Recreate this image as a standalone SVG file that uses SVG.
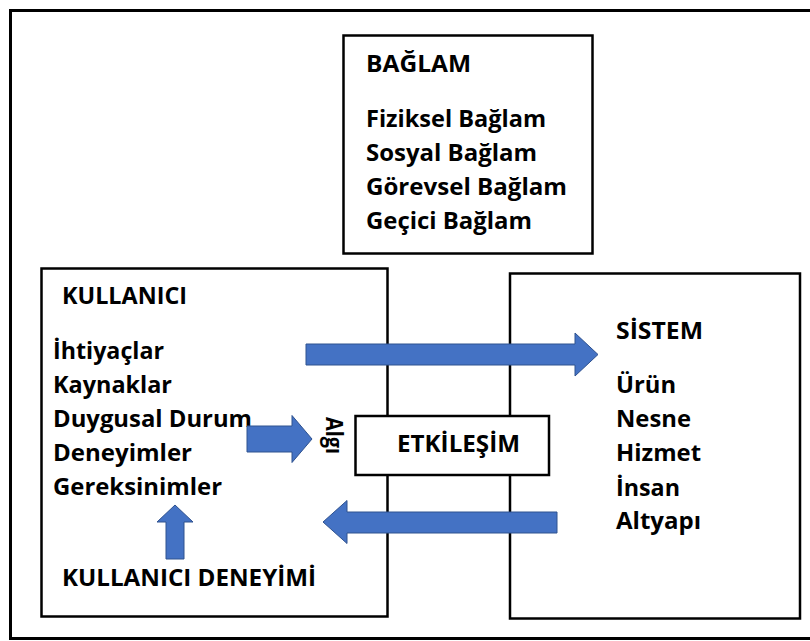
<svg xmlns="http://www.w3.org/2000/svg" width="810" height="641" viewBox="0 0 810 641">
  <style>
    .frame { fill: none; stroke: #000; stroke-width: 3; }
    .box { fill: #fff; stroke: #000; stroke-width: 2.5; }
    .boxo { fill: none; stroke: #000; stroke-width: 2.5; }
    .t { font-family: "Open Sans", "Noto Sans", "Liberation Sans", sans-serif; font-weight: bold; font-size: 23px; fill: #000; }
    .arrow { fill: #4472C4; stroke: #2F528F; stroke-width: 1; }
  </style>
  <rect x="0" y="0" width="810" height="641" fill="#fff"/>
  <rect class="frame" x="10.5" y="10.5" width="810" height="628"/>

  <g id="baglam">
    <rect class="box" x="343.5" y="35.5" width="249" height="218"/>
    <text class="t" x="366" y="72" textLength="105" lengthAdjust="spacingAndGlyphs">BAĞLAM</text>
    <text class="t" x="366" y="126.7" textLength="180" lengthAdjust="spacingAndGlyphs">Fiziksel Bağlam</text>
    <text class="t" x="366" y="160.7" textLength="171" lengthAdjust="spacingAndGlyphs">Sosyal Bağlam</text>
    <text class="t" x="366" y="194.6" textLength="201" lengthAdjust="spacingAndGlyphs">Görevsel Bağlam</text>
    <text class="t" x="366" y="228.5" textLength="166" lengthAdjust="spacingAndGlyphs">Geçici Bağlam</text>
  </g>

  <g id="kullanici">
    <rect class="boxo" x="41.5" y="268.5" width="346" height="348"/>
    <text class="t" x="62" y="303.5" textLength="125" lengthAdjust="spacingAndGlyphs">KULLANICI</text>
    <text class="t" x="53" y="358.5" textLength="111" lengthAdjust="spacingAndGlyphs">İhtiyaçlar</text>
    <text class="t" x="53" y="392.5" textLength="119" lengthAdjust="spacingAndGlyphs">Kaynaklar</text>
    <text class="t" x="53" y="426.5" textLength="199" lengthAdjust="spacingAndGlyphs">Duygusal Durum</text>
    <text class="t" x="53" y="460.5" textLength="139" lengthAdjust="spacingAndGlyphs">Deneyimler</text>
    <text class="t" x="53" y="494.5" textLength="169" lengthAdjust="spacingAndGlyphs">Gereksinimler</text>
  </g>

  <g id="sistem">
    <rect class="boxo" x="510" y="273.5" width="290" height="345"/>
    <text class="t" x="616" y="339.3" textLength="87" lengthAdjust="spacingAndGlyphs">SİSTEM</text>
    <text class="t" x="616" y="393.3" textLength="60" lengthAdjust="spacingAndGlyphs">Ürün</text>
    <text class="t" x="616" y="427.2" textLength="75" lengthAdjust="spacingAndGlyphs">Nesne</text>
    <text class="t" x="616" y="461" textLength="85" lengthAdjust="spacingAndGlyphs">Hizmet</text>
    <text class="t" x="616" y="495.5" textLength="64" lengthAdjust="spacingAndGlyphs">İnsan</text>
    <text class="t" x="616" y="529.4" textLength="85" lengthAdjust="spacingAndGlyphs">Altyapı</text>
  </g>

  <g id="etkilesim">
    <rect class="box" x="355.5" y="416" width="193.5" height="59"/>
    <text class="t" x="397" y="452" textLength="123" lengthAdjust="spacingAndGlyphs">ETKİLEŞİM</text>
  </g>

  <g id="kullanici-deneyimi">
    <text class="t" x="62" y="585.5" textLength="254" lengthAdjust="spacingAndGlyphs">KULLANICI DENEYİMİ</text>
  </g>

  <g id="connectors">
    <polygon class="arrow" points="306,344 575,344 575,333 598,354.5 575,376 575,365 306,365"/>
    <polygon class="arrow" points="557,512 347,512 347,500.5 323,522 347,543.5 347,533 557,533"/>
    <polygon class="arrow" points="247,426 292,426 292,415.5 312,439 292,462.5 292,452 247,452"/>
    <polygon class="arrow" points="166,559 166,522 157,522 175,505 193,522 184,522 184,559"/>
    <text class="t" transform="translate(326,417) rotate(90)" x="0" y="0" textLength="37" lengthAdjust="spacingAndGlyphs">Algı</text>
  </g>
</svg>
